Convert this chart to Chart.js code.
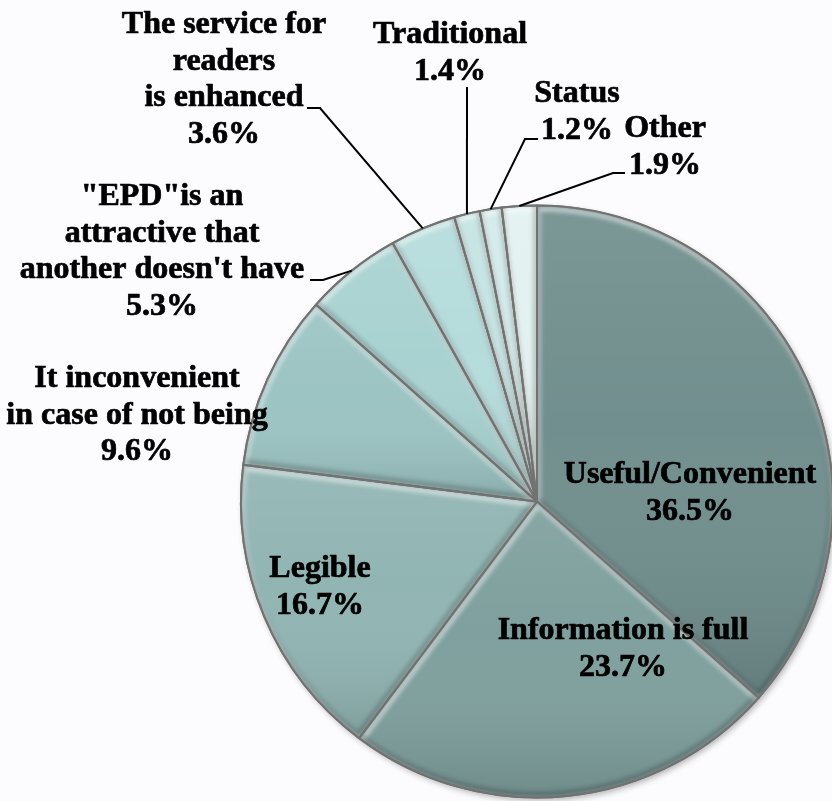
<!DOCTYPE html>
<html>
<head>
<meta charset="utf-8">
<script src="https://cdn.jsdelivr.net/npm/chart.js@4.4.0/dist/chart.umd.min.js"></script>
<style>
  html, body { margin: 0; padding: 0; background: #fcfbfe; }
  #wrap { width: 832px; height: 801px; position: relative; }
</style>
</head>
<body>
<div id="wrap"><canvas id="pieChart"></canvas></div>
<script>
// Reasons for using the EPD, share of answers in percent
const categories = [
    'Useful/Convenient',
    'Information is full',
    'Legible',
    'It inconvenient in case of not being',
    '"EPD"is an attractive that another doesn\'t have',
    'The service for readers is enhanced',
    'Traditional',
    'Status',
    'Other'
];
const shares = [36.5, 23.7, 16.7, 9.6, 5.3, 3.6, 1.4, 1.2, 1.9];

// category names broken into the lines shown on the chart
const labelLines = [
    ['Useful/Convenient'],
    ['Information is full'],
    ['Legible'],
    ['It inconvenient', 'in case of not being'],
    ['"EPD"is an', 'attractive that', "another doesn't have"],
    ['The service for', 'readers', 'is enhanced'],
    ['Traditional'],
    ['Status'],
    ['Other']
];

const sliceColors = ['#718f8e', '#7fa09e', '#91b5b3', '#9cc4c3', '#a8d2d1', '#b5dcdb', '#c5e4e3', '#d2ebea', '#e2f2f1'];

// label anchor: centre x and baseline of the first line
const labelPos = [
    { x: 690, y: 483 },
    { x: 623, y: 639 },
    { x: 320, y: 577 },
    { x: 137, y: 387 },
    { x: 162, y: 205 },
    { x: 224, y: 33 },
    { x: 450, y: 43 },
    { x: 577, y: 102 },
    { x: 665, y: 137 }
];
const lineGap = 36.5;

// leader lines: points from the text to the elbow, then on to the slice edge
const leaders = [
    null, null, null, null,
    [[310, 280], [323, 280]],
    [[307, 108], [320, 108]],
    [[467, 87]],
    [[538, 139], [525, 139]],
    [[625, 173], [613, 173]]
];

function slicePath(ctx, p) {
    ctx.beginPath();
    ctx.moveTo(p.x, p.y);
    ctx.arc(p.x, p.y, p.outerRadius, p.startAngle, p.endAngle);
    ctx.closePath();
}

// vertical extent of a slice, used for its shading
function sliceSpan(p) {
    let top = p.y, bottom = p.y;
    for (let k = 0; k <= 40; k++) {
        const a = p.startAngle + (p.endAngle - p.startAngle) * k / 40;
        const yy = p.y + Math.sin(a) * p.outerRadius;
        top = Math.min(top, yy);
        bottom = Math.max(bottom, yy);
    }
    return [top, bottom];
}

// soft bevel on every slice plus a faint drop shadow under the pie
const bevelPlugin = {
    id: 'bevel',
    beforeDatasetsDraw(chart) {
        const ctx = chart.ctx;
        const p = chart.getDatasetMeta(0).data[0].getProps(['x', 'y', 'outerRadius'], true);
        ctx.save();
        ctx.shadowColor = 'rgba(0,0,0,0.3)';
        ctx.shadowBlur = 6;
        ctx.shadowOffsetX = 2;
        ctx.shadowOffsetY = 3;
        ctx.fillStyle = '#7a7a7a';
        ctx.beginPath();
        ctx.arc(p.x, p.y, p.outerRadius, 0, Math.PI * 2);
        ctx.fill();
        ctx.restore();
    },
    afterDatasetsDraw(chart) {
        const ctx = chart.ctx;
        chart.getDatasetMeta(0).data.forEach(arc => {
            const p = arc.getProps(['x', 'y', 'startAngle', 'endAngle', 'outerRadius'], true);
            const [top, bottom] = sliceSpan(p);
            ctx.save();
            slicePath(ctx, p);
            ctx.clip();

            const g = ctx.createLinearGradient(0, top, 0, bottom);
            g.addColorStop(0, 'rgba(255,255,255,0.07)');
            g.addColorStop(0.45, 'rgba(255,255,255,0)');
            g.addColorStop(1, 'rgba(0,0,0,0.13)');
            ctx.fillStyle = g;
            ctx.fillRect(p.x - p.outerRadius, top, p.outerRadius * 2, bottom - top);

            ctx.filter = 'blur(2px)';
            ctx.lineJoin = 'round';
            ctx.lineWidth = 6;

            ctx.save();
            ctx.translate(1, 3);
            slicePath(ctx, p);
            ctx.strokeStyle = 'rgba(255,255,255,0.5)';
            ctx.stroke();
            ctx.restore();

            ctx.save();
            ctx.translate(-1, -3);
            slicePath(ctx, p);
            ctx.strokeStyle = 'rgba(0,0,0,0.2)';
            ctx.stroke();
            ctx.restore();
            ctx.restore();

            ctx.save();
            slicePath(ctx, p);
            ctx.lineWidth = 2;
            ctx.lineJoin = 'bevel';
            ctx.strokeStyle = '#727272';
            ctx.stroke();
            ctx.restore();
        });
    }
};

// category + percentage labels with leader lines for the small slices
const labelPlugin = {
    id: 'sliceLabels',
    afterDraw(chart) {
        const ctx = chart.ctx;
        const arcs = chart.getDatasetMeta(0).data;
        ctx.save();
        ctx.strokeStyle = '#000';
        ctx.lineWidth = 2;
        arcs.forEach((arc, i) => {
            if (!leaders[i]) return;
            const p = arc.getProps(['x', 'y', 'startAngle', 'endAngle', 'outerRadius'], true);
            const mid = (p.startAngle + p.endAngle) / 2;
            ctx.beginPath();
            leaders[i].forEach((pt, k) => k ? ctx.lineTo(pt[0], pt[1]) : ctx.moveTo(pt[0], pt[1]));
            ctx.lineTo(p.x + Math.cos(mid) * p.outerRadius, p.y + Math.sin(mid) * p.outerRadius);
            ctx.stroke();
        });

        ctx.fillStyle = '#000';
        ctx.lineWidth = 0.7;
        ctx.lineJoin = 'round';
        ctx.font = 'bold 32px "Liberation Serif", "Times New Roman", serif';
        ctx.textAlign = 'center';
        ctx.textBaseline = 'alphabetic';
        labelLines.forEach((lines, i) => {
            const rows = lines.concat(shares[i].toFixed(1) + '%');
            rows.forEach((t, k) => {
                const ty = labelPos[i].y + k * lineGap;
                ctx.fillText(t, labelPos[i].x, ty);
                ctx.strokeText(t, labelPos[i].x, ty);
            });
        });
        ctx.restore();
    }
};

new Chart(document.getElementById('pieChart'), {
    type: 'pie',
    data: {
        labels: categories,
        datasets: [{
            data: shares,
            backgroundColor: sliceColors,
            borderColor: '#727272',
            borderWidth: 2
        }]
    },
    options: {
        responsive: true,
        maintainAspectRatio: false,
        animation: false,
        radius: 296,
        layout: { padding: { left: 242, right: 0, top: 207, bottom: 5 } },
        plugins: {
            legend: { display: false },
            tooltip: { enabled: false }
        }
    },
    plugins: [bevelPlugin, labelPlugin]
});
</script>
</body>
</html>
